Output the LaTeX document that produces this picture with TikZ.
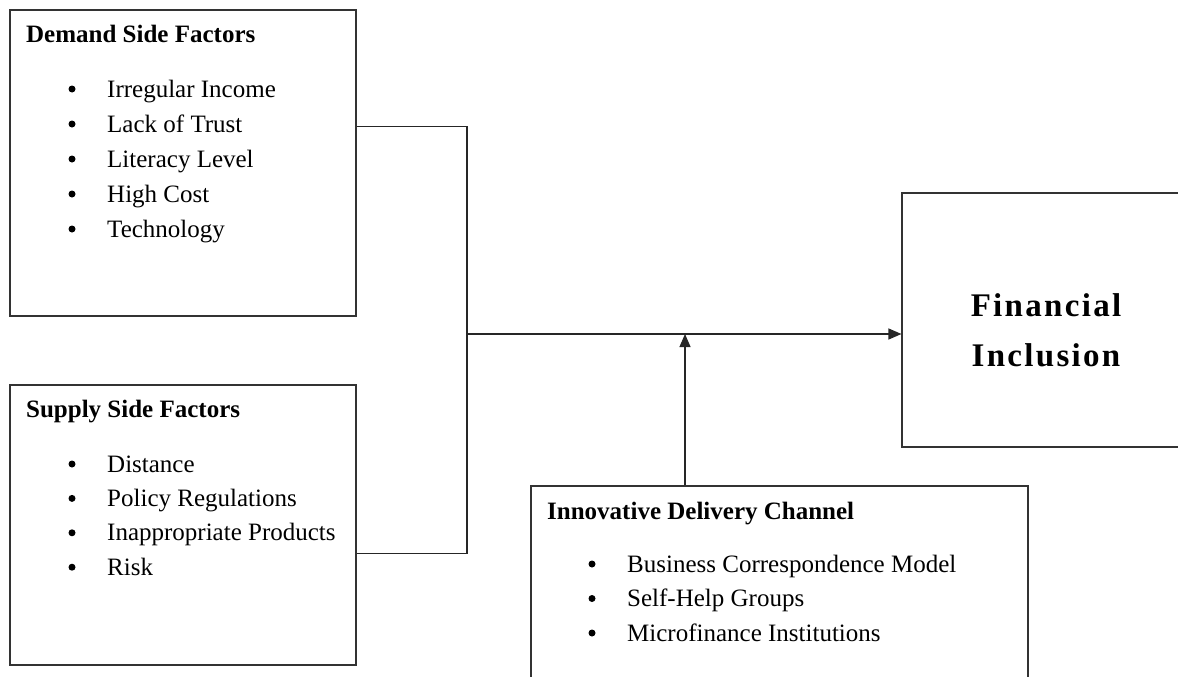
\documentclass[tikz,border=0pt]{standalone}
\usepackage{fontspec}
\setmainfont{Liberation Serif}
\newfontfamily\finfont[LetterSpace=7]{Liberation Serif}
\usetikzlibrary{arrows.meta,positioning}

\tikzset{
  box/.style={draw=black!80, line width=1.1pt, inner sep=0pt},
  head/.style={anchor=base west, inner sep=0pt, font=\fontsize{25}{29}\selectfont\bfseries},
  entry/.style={anchor=base west, inner sep=0pt, font=\fontsize{25}{29}\selectfont},
  dot/.style={circle, fill=black, inner sep=0pt, minimum size=7pt},
  link/.style={draw=black!85, line width=1.1pt},
  tip/.style={-{Triangle[length=13pt,width=11pt]}}
}

\begin{document}
\begin{tikzpicture}[x=1pt,y=-1pt]
    \useasboundingbox (0,0) rectangle (1178,677) ;
    \clip (0,0) rectangle (1178,677) ;
    \node [box, minimum width=346pt, minimum height=306pt] (demand) at (183,163) {} ;
    \node [box, minimum width=346pt, minimum height=280pt] (supply) at (183,525) {} ;
    \node [box, minimum width=497pt, minimum height=230pt] (channel) at (779.5,601) {} ;
    \node [box, minimum width=288pt, minimum height=254pt] (inclusion) at (1046,320) {} ;
    \node [head] (dhead) at (26,43) {Demand Side Factors} ;
    \foreach \t [count=\i] in {Irregular Income, Lack of Trust, Literacy Level, High Cost, Technology} {
      \node [dot] (db\i) at (72,{89+35*(\i-1)}) {} ;
      \node [entry] (d\i) at (107,{97+35*(\i-1)}) {\t} ;
    }
    \node [head] (shead) at (26,417) {Supply Side Factors} ;
    \foreach \t [count=\i] in {Distance, Policy Regulations, Inappropriate Products, Risk} {
      \node [dot] (sb\i) at (72,{464+34.4*(\i-1)}) {} ;
      \node [entry] (s\i) at (107,{472+34.4*(\i-1)}) {\t} ;
    }
    \node [head] (chead) at (547,519) {Innovative Delivery Channel} ;
    \foreach \t [count=\i] in {Business Correspondence Model, Self-Help Groups, Microfinance Institutions} {
      \node [dot] (cb\i) at (592,{564+34.5*(\i-1)}) {} ;
      \node [entry] (c\i) at (627,{572+34.5*(\i-1)}) {\t} ;
    }
    \node [anchor=base, align=center, inner sep=0pt,
      font=\finfont\bfseries\fontsize{33}{50}\selectfont] (ftext) at (1046,366)
      {Financial\\Inclusion} ;
    \coordinate (join) at (467,334) ;
    \coordinate (merge) at (685,334) ;
    \draw [link] (demand.north east) ++(0,117) -| (join) ;
    \draw [link] (supply.north east) ++(0,169) -| (join) ;
    \draw [link, tip] (join) -- (inclusion.west |- join) ;
    \draw [link, tip] (channel.north -| merge) -- (merge) ;
\end{tikzpicture}
\end{document}
